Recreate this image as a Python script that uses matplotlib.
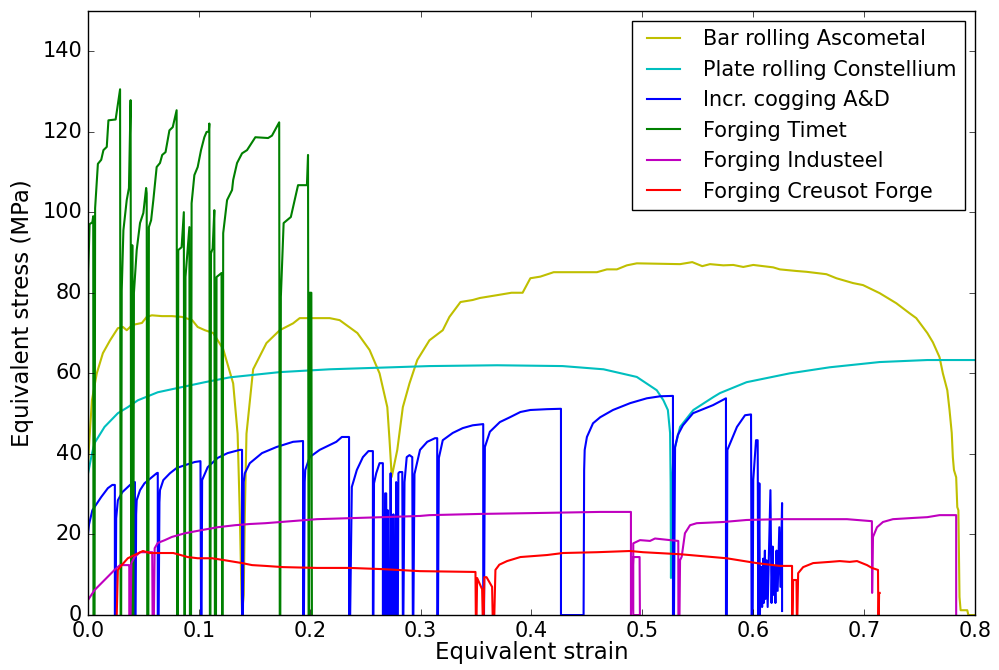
import matplotlib
matplotlib.use('Agg')
from matplotlib import pyplot as plt
import numpy as np

# (equivalent strain, equivalent stress in MPa) per process
bar_rolling = [
    (0.0, 37), (0.001, 42), (0.0036, 53.3), (0.008, 60), (0.0135, 65), (0.02, 68.2),
    (0.027, 71.2), (0.0316, 71.5), (0.035, 70.7), (0.04, 72), (0.0487, 72.5), (0.053, 74),
    (0.0577, 74.4), (0.0667, 74.2), (0.0758, 74.2), (0.0848, 74), (0.094, 73.2),
    (0.099, 71.5), (0.1055, 70.7), (0.113, 70), (0.122, 66), (0.131, 57.5), (0.135, 45),
    (0.137, 25), (0.1385, 5), (0.139, 0.5), (0.1405, 5), (0.1415, 25), (0.143, 45),
    (0.149, 61), (0.161, 67.5), (0.173, 70.7), (0.185, 72.4), (0.191, 73.7), (0.203, 73.7),
    (0.218, 73.7), (0.227, 73.2), (0.243, 70), (0.254, 65.8), (0.263, 60), (0.27, 51.6),
    (0.272, 43.4), (0.274, 34.3), (0.279, 41), (0.284, 51.6), (0.29, 57.5), (0.297, 63.3),
    (0.308, 68.2), (0.32, 70.7), (0.326, 74), (0.336, 77.7), (0.347, 78.2), (0.3535, 78.7),
    (0.369, 79.4), (0.382, 80), (0.392, 80), (0.399, 83.6), (0.408, 84), (0.42, 85.1),
    (0.459, 85.1), (0.468, 85.8), (0.477, 85.8), (0.486, 86.8), (0.495, 87.3), (0.534, 87.1),
    (0.545, 87.6), (0.554, 86.6), (0.561, 87.1), (0.573, 86.8), (0.582, 86.9), (0.591, 86.4),
    (0.6, 86.9), (0.603, 86.8), (0.618, 86.3), (0.624, 85.8), (0.639, 85.4), (0.648, 85.2),
    (0.666, 84.6), (0.675, 83.6), (0.69, 82.4), (0.699, 81.9), (0.714, 79.9), (0.729, 77.4),
    (0.741, 74.9), (0.747, 73.7), (0.757, 70), (0.762, 67.7), (0.768, 64), (0.771, 60),
    (0.775, 55.8), (0.777, 50.9), (0.779, 45.2), (0.78, 39.2), (0.781, 36), (0.783, 34.2),
    (0.784, 26.8), (0.785, 26), (0.786, 4.5), (0.787, 1.2), (0.793, 1.2), (0.794, 0), (0.8, 0),
]

plate_rolling = [
    (0.0, 35), (0.0036, 40), (0.006, 42.7), (0.015, 46.7), (0.027, 50.1), (0.036, 51.6),
    (0.045, 53.3), (0.063, 55.3), (0.085, 56.6), (0.1055, 57.8), (0.128, 59), (0.173, 60.3),
    (0.218, 61), (0.308, 61.8), (0.369, 62), (0.428, 61.8), (0.465, 61), (0.495, 59.1),
    (0.513, 55.8), (0.519, 53.3), (0.523, 50.9), (0.525, 45.2), (0.5255, 32.8), (0.5258, 9.2),
    (0.5265, 30), (0.528, 40), (0.534, 46.7), (0.546, 50.9), (0.564, 54.1), (0.57, 55.1),
    (0.594, 57.8), (0.633, 60), (0.669, 61.5), (0.714, 62.8), (0.757, 63.3), (0.8, 63.3),
]

incr_cogging = [
    (0.0, 20), (0.001, 22.5), (0.004, 26), (0.012, 29.3), (0.018, 31.5), (0.022, 32.3),
    (0.0243, 32.3), (0.0243, 0),
    (0.025, 0), (0.0255, 24), (0.027, 28.5), (0.031, 30.5), (0.038, 32.3), (0.0415, 33),
    (0.0424, 33), (0.0424, 0),
    (0.043, 0), (0.0435, 25), (0.044, 28.5), (0.047, 31), (0.051, 32.7), (0.058, 34.3),
    (0.062, 35.2), (0.063, 35.3), (0.063, 0),
    (0.0638, 0), (0.0645, 28), (0.065, 31), (0.068, 33.5), (0.074, 35.2), (0.08, 36.5),
    (0.0875, 37.2), (0.0965, 38), (0.1015, 38.2), (0.102, 0),
    (0.1025, 0), (0.103, 33.5), (0.108, 36.7), (0.117, 39), (0.126, 40.2), (0.137, 41),
    (0.139, 41), (0.139, 0),
    (0.1398, 0), (0.1405, 33), (0.1415, 35.2), (0.146, 37.7), (0.157, 40.2), (0.17, 41.7),
    (0.185, 43), (0.194, 43.2), (0.194, 0),
    (0.1948, 0), (0.1955, 33), (0.196, 36), (0.2, 39.2), (0.209, 41), (0.224, 43),
    (0.229, 44.2), (0.2355, 44.2), (0.2355, 0),
    (0.2365, 0), (0.238, 31.8), (0.2425, 36), (0.248, 39.2), (0.253, 40.7), (0.257, 40.7),
    (0.257, 0),
    (0.2575, 0), (0.258, 32.7), (0.26, 35.2), (0.263, 37.7), (0.266, 37.7), (0.266, 0),
    (0.2675, 0), (0.268, 30.2), (0.269, 30.2), (0.2695, 0), (0.2705, 26), (0.271, 0),
    (0.2725, 0), (0.273, 35.2), (0.2735, 0), (0.275, 0), (0.2755, 25), (0.276, 0),
    (0.2775, 0), (0.278, 33), (0.2785, 0), (0.2795, 0), (0.28, 35.2), (0.281, 35.5),
    (0.2835, 35.5), (0.284, 0),
    (0.2845, 0), (0.2855, 33), (0.2875, 39.2), (0.29, 39.7), (0.2925, 39.2), (0.293, 0),
    (0.2935, 0), (0.2945, 35), (0.2995, 41), (0.306, 43), (0.313, 43.9), (0.315, 43.9),
    (0.315, 0),
    (0.3157, 0), (0.3165, 39), (0.32, 43.4), (0.329, 45.2), (0.338, 46.4), (0.347, 47.1),
    (0.356, 47.4), (0.3565, 47.4), (0.3565, 0),
    (0.3572, 0), (0.358, 41.7), (0.3625, 45.5), (0.3715, 47.9), (0.3806, 49.1), (0.39, 50.4),
    (0.399, 50.9), (0.414, 51.1), (0.4266, 51.2), (0.4266, 0),
    (0.447, 0), (0.4475, 36), (0.448, 41), (0.45, 44.2), (0.4555, 47.6), (0.462, 49.1),
    (0.4735, 50.9), (0.489, 52.6), (0.504, 53.8), (0.516, 54.3), (0.5276, 54.4), (0.5276, 0),
    (0.5285, 0), (0.5295, 41.7), (0.532, 44.7), (0.5366, 47.1), (0.5457, 50.1),
    (0.5637, 52.1), (0.5754, 53.8), (0.5754, 0),
    (0.5762, 0), (0.5767, 41), (0.5853, 46.7), (0.5926, 49.6), (0.598, 49.8), (0.5985, 0),
    (0.5995, 0), (0.6, 33.5), (0.6025, 43.4), (0.604, 43.4), (0.6045, 0), (0.6055, 32.7),
    (0.606, 0), (0.607, 12), (0.608, 2), (0.609, 14), (0.6095, 3), (0.6105, 16), (0.611, 4),
    (0.612, 13.6), (0.613, 2), (0.6155, 31), (0.6165, 3), (0.6175, 17), (0.618, 5),
    (0.619, 12), (0.62, 3), (0.621, 16), (0.622, 6), (0.6235, 21.8), (0.6245, 7),
    (0.626, 27.8), (0.626, 1),
]

forging_timet = [
    (0.0, 0), (0.0003, 85), (0.0015, 97), (0.004, 97.5), (0.0048, 99), (0.005, 0),
    (0.006, 0), (0.0065, 101), (0.009, 112), (0.012, 113), (0.014, 115.4), (0.017, 116.2),
    (0.0185, 122.8), (0.025, 123), (0.029, 130.5), (0.0295, 0),
    (0.030, 0), (0.0305, 80.6), (0.032, 95.5), (0.035, 103), (0.037, 106), (0.0385, 127.8),
    (0.039, 0),
    (0.0395, 0), (0.040, 91.8), (0.0405, 0),
    (0.041, 0), (0.0415, 80), (0.044, 90.6), (0.047, 97.3), (0.050, 99.8), (0.0525, 106),
    (0.053, 104.7), (0.0535, 0),
    (0.0545, 0), (0.055, 96.3), (0.057, 98), (0.059, 103), (0.062, 111.2), (0.065, 112.2),
    (0.067, 114.2), (0.07, 114.9), (0.0735, 120.3), (0.0765, 121.1), (0.080, 125.3),
    (0.0805, 0),
    (0.081, 0), (0.0815, 90.6), (0.0845, 91.3), (0.0865, 100), (0.087, 0),
    (0.0875, 0), (0.088, 83.9), (0.0915, 96.3), (0.092, 0),
    (0.093, 0), (0.0935, 102.2), (0.096, 109.2), (0.099, 111.2), (0.102, 115.4),
    (0.105, 118.6), (0.107, 119.9), (0.109, 120), (0.1095, 122), (0.110, 0),
    (0.1105, 0), (0.111, 89.8), (0.1125, 91), (0.114, 100.5), (0.1145, 0),
    (0.1155, 0), (0.116, 83.9), (0.1205, 84.9), (0.121, 0),
    (0.1215, 0), (0.122, 94.8), (0.1255, 103), (0.130, 105.5), (0.131, 108),
    (0.1345, 112.2), (0.139, 114.6), (0.1435, 115.4), (0.151, 118.6), (0.1625, 118.4),
    (0.166, 119), (0.1725, 122.3), (0.173, 0),
    (0.1735, 0), (0.174, 79), (0.1765, 97.3), (0.183, 98.8), (0.1895, 106.7),
    (0.1975, 106.7), (0.1985, 114.2), (0.199, 0),
    (0.1995, 0), (0.2, 80), (0.2015, 80), (0.202, 0),
]

forging_industeel = [
    (0.0, 3.7), (0.006, 6.2), (0.015, 8.7), (0.024, 11.2), (0.029, 12.4), (0.0364, 12.4),
    (0.0373, 12.4), (0.0373, 0),
    (0.0385, 0), (0.0392, 12.9), (0.042, 14.4), (0.047, 15.6), (0.0514, 15.6), (0.058, 15.6),
    (0.0583, 0),
    (0.0595, 0), (0.0602, 16.6), (0.063, 17.9), (0.0694, 18.6), (0.0758, 19.4),
    (0.0875, 20.3), (0.1028, 21.1), (0.117, 21.8), (0.1326, 22.3), (0.146, 22.6),
    (0.16, 22.8), (0.2065, 23.8), (0.266, 24.3), (0.2995, 24.6), (0.308, 24.8),
    (0.3535, 25.1), (0.399, 25.3), (0.4618, 25.6), (0.4897, 25.6), (0.4897, 0),
    (0.4918, 14.4), (0.4975, 14.4), (0.4978, 0), (0.4918, 0), (0.4918, 17.8),
    (0.4979, 18.6), (0.5069, 18.4), (0.5114, 19), (0.525, 18.6), (0.5324, 18.4), (0.5325, 0),
    (0.5335, 0), (0.534, 13.6), (0.5355, 14.5), (0.5384, 20.3), (0.543, 22.3),
    (0.549, 22.8), (0.573, 23.1), (0.594, 23.6), (0.624, 23.8), (0.6845, 23.8),
    (0.707, 23.3), (0.7072, 5.5), (0.708, 19.4), (0.7116, 21.8), (0.717, 23.1),
    (0.726, 23.8), (0.744, 24.1), (0.757, 24.3), (0.768, 24.8), (0.783, 24.8), (0.783, 0),
]

forging_creusot = [
    (0.026, 0), (0.027, 11.2), (0.0305, 12.4), (0.036, 14.1), (0.042, 14.9), (0.0496, 15.9),
    (0.056, 15.4), (0.0695, 15.4), (0.077, 15.4), (0.081, 15.1), (0.09, 14.4), (0.099, 14.1),
    (0.112, 14.1), (0.1236, 13.6), (0.139, 12.9), (0.148, 12.4), (0.16, 12.2), (0.176, 11.9),
    (0.2065, 11.7), (0.236, 11.7), (0.266, 11.4), (0.2995, 10.9), (0.3495, 10.7),
    (0.3498, 0), (0.3505, 0), (0.351, 9.2), (0.3555, 6.4), (0.356, 0), (0.357, 0),
    (0.3575, 9.4), (0.3595, 9.4), (0.3645, 7), (0.365, 0), (0.3665, 0), (0.3675, 11.2),
    (0.371, 12.5), (0.378, 13.4), (0.39, 14.4), (0.414, 14.9), (0.4285, 15.4), (0.459, 15.6),
    (0.489, 15.9), (0.5006, 15.6), (0.534, 15.1), (0.576, 14.1), (0.603, 12.9),
    (0.624, 12.2), (0.635, 12.2), (0.635, 0), (0.6355, 0), (0.636, 8.7), (0.639, 8.7),
    (0.6393, 0), (0.6398, 0), (0.6405, 10.4), (0.645, 11.9), (0.654, 12.9), (0.669, 13.2),
    (0.678, 13.4), (0.687, 13.2), (0.6936, 13.4), (0.7026, 12.4), (0.707, 11.7),
    (0.7125, 11.2), (0.7128, 0), (0.7132, 0), (0.7135, 5.5), (0.714, 5.5),
]

series = [
    (bar_rolling, 'y', 'Bar rolling Ascometal'),
    (plate_rolling, 'c', 'Plate rolling Constellium'),
    (incr_cogging, 'b', 'Incr. cogging A&D'),
    (forging_timet, 'g', 'Forging Timet'),
    (forging_industeel, 'm', 'Forging Industeel'),
    (forging_creusot, 'r', 'Forging Creusot Forge'),
]

plt.style.use('classic')
plt.rcParams['figure.facecolor'] = 'white'
plt.rcParams['font.size'] = 15

fig = plt.figure(figsize=(9.99, 6.70), dpi=100)
ax = fig.add_axes([0.088, 0.082, 0.888, 0.902])

for data, color, label in series:
    pts = np.array(data)
    ax.plot(pts[:, 0], pts[:, 1], color=color, lw=1.5, label=label)

ax.set_xlim(0, 0.8)
ax.set_ylim(0, 150)
ax.set_xticks(np.arange(0, 0.81, 0.1))
ax.set_yticks(np.arange(0, 141, 20))
ax.tick_params(labelsize=15)
ax.set_xlabel('Equivalent strain', fontsize=16.5, labelpad=0)
ax.set_ylabel('Equivalent stress (MPa)', fontsize=16.5, labelpad=6)

leg = ax.legend(loc='upper right', fontsize=15, handlelength=2.2)
leg.get_frame().set_edgecolor('black')

fig.savefig('out.png', dpi=100, facecolor='white')
